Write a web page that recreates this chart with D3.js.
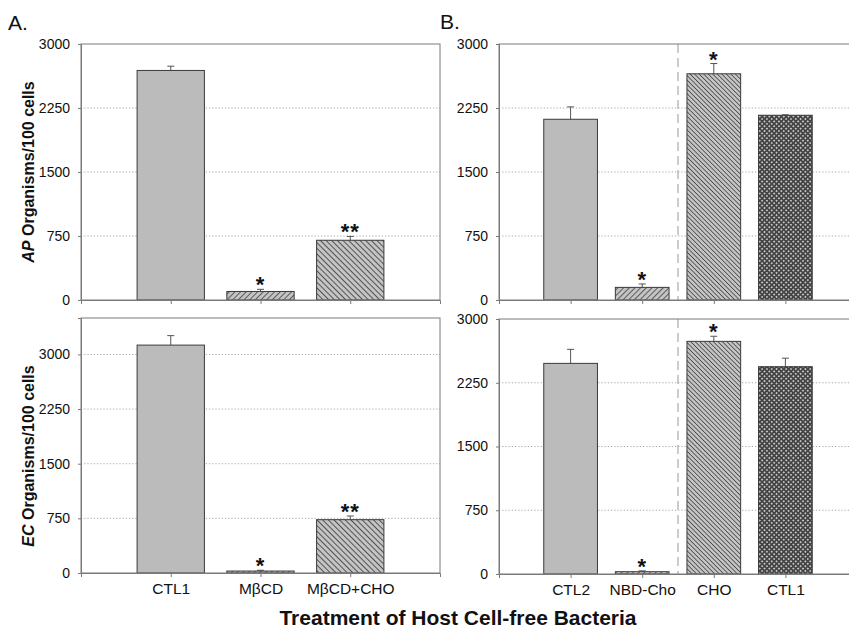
<!DOCTYPE html>
<html>
<head>
<meta charset="utf-8">
<script src="https://cdn.jsdelivr.net/npm/d3@7"></script>
<style>
  body { margin: 0; background: #fff; }
  svg { display: block; font-family: "Liberation Sans", Arial, sans-serif; }
</style>
</head>
<body>
<div id="chart"></div>
<script>
// data
const catsA = ["CTL1", "MβCD", "MβCD+CHO"];
const apA = [2690, 100, 700];
const apAErr = [50, 25, 45];
const ecA = [3128, 27, 732];
const ecAErr = [130, 10, 50];
const starsA = ["", "*", "**"];

const catsB = ["CTL2", "NBD-Cho", "CHO", "CTL1"];
const apB = [2118, 148, 2651, 2165];
const apBErr = [145, 40, 120, 5];
const ecB = [2478, 27, 2737, 2439];
const ecBErr = [165, 10, 60, 100];
const starsB = ["", "*", "*", ""];

const yTicks = [0, 750, 1500, 2250, 3000];

// fill for each bar (pattern ids)
const fillsA = ["solid", "hatchF", "hatchB"];
const fillsB = ["solid", "hatchF", "hatchFine", "cross"];

const W = 849, H = 628;
const svg = d3.select("#chart").append("svg")
  .attr("width", W)
  .attr("height", H);

// patterns
const defs = svg.append("defs");
function linePattern(id, size, angle, bg, fg, sw) {
  const p = defs.append("pattern")
    .attr("id", id)
    .attr("patternUnits", "userSpaceOnUse")
    .attr("width", size)
    .attr("height", size)
    .attr("patternTransform", "rotate(" + angle + ")");
  p.append("rect").attr("width", size).attr("height", size).attr("fill", bg);
  p.append("line")
    .attr("x1", 0).attr("y1", 0).attr("x2", 0).attr("y2", size)
    .attr("stroke", fg).attr("stroke-width", sw);
}
linePattern("hatchF", 4, 45, "#c4c4c4", "#505050", 1.8);
linePattern("hatchB", 4, -45, "#c4c4c4", "#454545", 1.8);
linePattern("hatchFine", 3.2, -45, "#c4c4c4", "#474747", 1.6);

const cross = defs.append("pattern")
  .attr("id", "cross")
  .attr("patternUnits", "userSpaceOnUse")
  .attr("width", 3.4)
  .attr("height", 3.4)
  .attr("patternTransform", "rotate(45)");
cross.append("rect").attr("width", 3.4).attr("height", 3.4).attr("fill", "#444");
cross.append("rect").attr("width", 1.7).attr("height", 1.7).attr("fill", "#c4c4c4");

function fillOf(k) {
  return k === "solid" ? "#bbbbbb" : "url(#" + k + ")";
}

function drawPanel(opt) {
  const x = d3.scaleLinear()
    .domain([0, opt.cats.length + 1])
    .range([opt.x0, opt.x1]);
  const y = d3.scaleLinear()
    .domain([0, opt.ymax])
    .range([opt.y1, opt.y0]);
  const unit = x(1) - x(0);
  const bw = unit * 0.75;

  const g = svg.append("g");

  // grid lines
  g.selectAll(".grid")
    .data(yTicks.filter((t) => t > 0 && t < opt.ymax))
    .enter()
    .append("line")
    .attr("x1", opt.x0).attr("x2", opt.x1)
    .attr("y1", (d) => y(d)).attr("y2", (d) => y(d))
    .attr("stroke", "#a8a8a8")
    .attr("stroke-dasharray", "1.2,2");

  // separator line
  if (opt.sep) {
    g.append("line")
      .attr("x1", x(opt.sep)).attr("x2", x(opt.sep))
      .attr("y1", opt.y0).attr("y2", opt.y1)
      .attr("stroke", "#999")
      .attr("stroke-dasharray", "9,5");
  }

  // error bars
  const eb = g.selectAll(".err")
    .data(opt.vals)
    .enter()
    .append("g");
  eb.append("line")
    .attr("x1", (d, i) => x(i + 1)).attr("x2", (d, i) => x(i + 1))
    .attr("y1", (d) => y(d)).attr("y2", (d, i) => y(d + opt.errs[i]))
    .attr("stroke", "#555");
  eb.append("line")
    .attr("x1", (d, i) => x(i + 1) - 3.5).attr("x2", (d, i) => x(i + 1) + 3.5)
    .attr("y1", (d, i) => y(d + opt.errs[i])).attr("y2", (d, i) => y(d + opt.errs[i]))
    .attr("stroke", "#555");

  // bars
  g.selectAll(".bar")
    .data(opt.vals)
    .enter()
    .append("rect")
    .attr("x", (d, i) => x(i + 1) - bw / 2)
    .attr("width", bw)
    .attr("y", (d) => y(d))
    .attr("height", (d) => y(0) - y(d))
    .attr("fill", (d, i) => fillOf(opt.fills[i]))
    .attr("stroke", "#3a3a3a")
    .attr("stroke-width", 1);

  // asterisks
  g.selectAll(".star")
    .data(opt.vals)
    .enter()
    .append("text")
    .attr("x", (d, i) => x(i + 1))
    .attr("y", (d, i) => y(d + opt.errs[i]) + 3)
    .attr("text-anchor", "middle")
    .style("font-size", "22px")
    .style("font-weight", "bold")
    .style("letter-spacing", "1px")
    .attr("fill", "#111")
    .text((d, i) => opt.stars[i]);

  // frame
  g.append("rect")
    .attr("x", opt.x0).attr("y", opt.y0)
    .attr("width", opt.x1 - opt.x0).attr("height", opt.y1 - opt.y0)
    .attr("fill", "none")
    .attr("stroke", "#7a7a7a");

  // y axis
  const ya = g.append("g")
    .attr("transform", "translate(" + opt.x0 + ",0)")
    .call(d3.axisLeft(y).tickValues(yTicks).tickFormat(d3.format("d")).tickSize(3).tickPadding(8));
  ya.select(".domain").attr("stroke", "#7a7a7a");
  ya.selectAll(".tick line").attr("stroke", "#7a7a7a");
  ya.selectAll(".tick text")
    .style("font-size", "14px")
    .style("font-family", "'Liberation Sans', Arial, sans-serif")
    .attr("fill", "#111");

  // x axis
  const xa = g.append("g")
    .attr("transform", "translate(0," + opt.y1 + ")")
    .call(d3.axisBottom(x)
      .tickValues(d3.range(1, opt.cats.length + 1))
      .tickSize(4)
      .tickPadding(6)
      .tickFormat((d) => (opt.labels ? opt.cats[d - 1] : "")));
  xa.select(".domain").attr("stroke", "#7a7a7a");
  xa.selectAll(".tick line").attr("stroke", "#7a7a7a");
  xa.selectAll(".tick text")
    .style("font-size", "15.5px")
    .style("font-family", "'Liberation Sans', Arial, sans-serif")
    .attr("fill", "#111");

  // y title
  if (opt.title) {
    const t = svg.append("text")
      .attr("transform", "translate(" + 34 + "," + opt.titleY + ") rotate(-90)")
      .attr("text-anchor", "middle")
      .style("font-size", "16px")
      .style("font-weight", "bold")
      .attr("fill", "#111");
    t.append("tspan").style("font-style", "italic").text(opt.title);
    t.append("tspan").text(" Organisms/100 cells");
  }
}

drawPanel({ cats: catsA, vals: apA, errs: apAErr, stars: starsA, fills: fillsA,
  x0: 81, x1: 440, y0: 44, y1: 300, ymax: 3000, title: "AP", titleY: 172 });
drawPanel({ cats: catsA, vals: ecA, errs: ecAErr, stars: starsA, fills: fillsA,
  x0: 81, x1: 440, y0: 318, y1: 573, ymax: 3500, title: "EC", titleY: 456, labels: true });
drawPanel({ cats: catsB, vals: apB, errs: apBErr, stars: starsB, fills: fillsB,
  x0: 499, x1: 857, y0: 44, y1: 300, ymax: 3000, sep: 2.5 });
drawPanel({ cats: catsB, vals: ecB, errs: ecBErr, stars: starsB, fills: fillsB,
  x0: 499, x1: 857, y0: 319, y1: 574, ymax: 3000, sep: 2.5, labels: true });

// panel letters
svg.append("text").attr("x", 8).attr("y", 30)
  .style("font-size", "21px").attr("fill", "#111").text("A.");
svg.append("text").attr("x", 440).attr("y", 29)
  .style("font-size", "21px").attr("fill", "#111").text("B.");

// x title
svg.append("text")
  .attr("x", 458)
  .attr("y", 625)
  .attr("text-anchor", "middle")
  .style("font-size", "21px")
  .style("font-weight", "bold")
  .attr("fill", "#111")
  .text("Treatment of Host Cell-free Bacteria");
</script>
</body>
</html>
